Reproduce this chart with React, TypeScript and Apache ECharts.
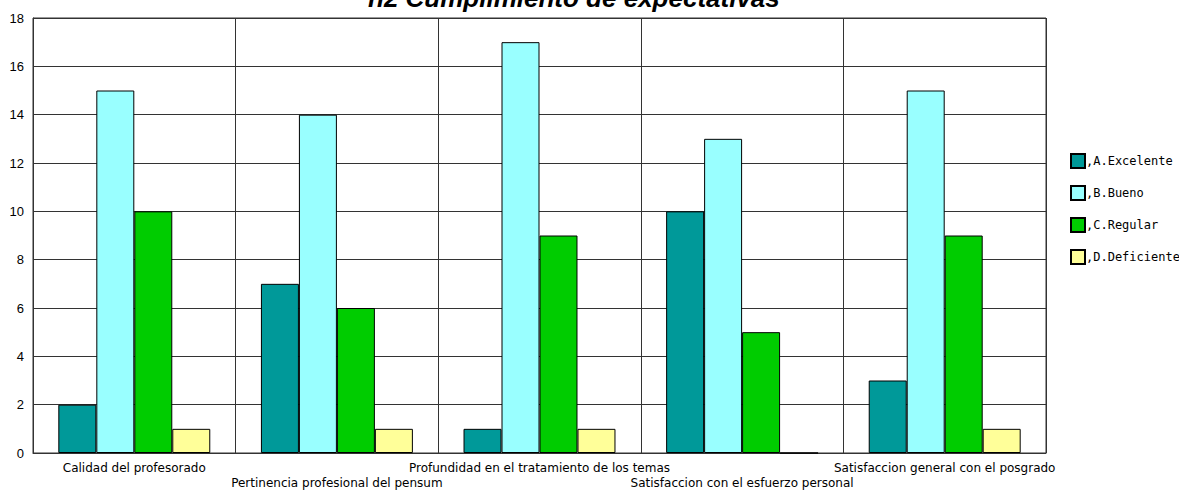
import React, { useEffect, useRef } from "react";
import * as echarts from "echarts";

const categories = [
  "Calidad del profesorado",
  "Pertinencia profesional del pensum",
  "Profundidad en el tratamiento de los temas",
  "Satisfaccion con el esfuerzo personal",
  "Satisfaccion general con el posgrado",
];
const seriesNames = [",A.Excelente", ",B.Bueno", ",C.Regular", ",D.Deficiente"];
const excelente = [2, 7, 1, 10, 3];
const bueno = [15, 14, 17, 13, 15];
const regular = [10, 6, 9, 5, 9];
const deficiente = [1, 1, 1, 0, 1];
const yTicks = [0, 2, 4, 6, 8, 10, 12, 14, 16, 18];
const colors = ["#009999", "#99FFFF", "#00CC00", "#FFFF99"];
const titleText = "h2 Cumplimiento de expectativas";

export default function App() {
  const ref = useRef<HTMLDivElement>(null);
  useEffect(() => {
    if (!ref.current) return;
    const chart = echarts.init(ref.current, null, { renderer: "svg" });
    const values = [excelente, bueno, regular, deficiente];
    chart.setOption({
      animation: false,
      backgroundColor: "#fff",
      title: {
        text: titleText,
        left: 363,
        top: -20,
        textStyle: {
          fontFamily: "Liberation Sans",
          fontSize: 26,
          fontWeight: "bold",
          fontStyle: "italic",
          color: "#000",
        },
      },
      legend: {
        orient: "vertical",
        left: 1065,
        top: 148,
        itemWidth: 14,
        itemHeight: 14,
        itemGap: 16,
        icon: "rect",
        textStyle: {
          fontFamily: "DejaVu Sans Mono",
          fontSize: 12,
          color: "#000",
          padding: [0, 0, 0, -4],
        },
        data: seriesNames,
      },
      grid: {
        left: 33,
        top: 18,
        right: 133,
        bottom: 38,
        show: true,
        borderColor: "#333",
        borderWidth: 1,
        containLabel: false,
      },
      xAxis: {
        type: "category",
        data: categories,
        axisLine: { show: true, lineStyle: { color: "#333", width: 1 } },
        axisTick: { show: false },
        splitLine: { show: true, lineStyle: { color: "#333", width: 1 } },
        axisLabel: {
          interval: 0,
          margin: 7,
          fontFamily: "DejaVu Sans",
          fontSize: 12,
          color: "#000",
          lineHeight: 15,
          formatter: (v: string, i: number) => (i % 2 === 1 ? "\n" + v : v),
        },
      },
      yAxis: {
        type: "value",
        min: yTicks[0],
        max: yTicks[yTicks.length - 1],
        interval: yTicks[1] - yTicks[0],
        axisLine: { show: true, lineStyle: { color: "#333", width: 1 } },
        axisTick: { show: false },
        splitLine: { show: true, lineStyle: { color: "#333", width: 1 } },
        axisLabel: { margin: 9, fontFamily: "Liberation Sans", fontSize: 13, color: "#000" },
      },
      series: seriesNames.map((name, k) => ({
        name,
        type: "bar",
        data: values[k],
        barGap: "0%",
        barCategoryGap: "25%",
        itemStyle: { color: colors[k], borderColor: "#000", borderWidth: 1 },
      })),
    });
    return () => chart.dispose();
  }, []);
  return (
    <div
      ref={ref}
      style={{ position: "fixed", left: 0, top: 0, width: 1179, height: 491 }}
    />
  );
}
